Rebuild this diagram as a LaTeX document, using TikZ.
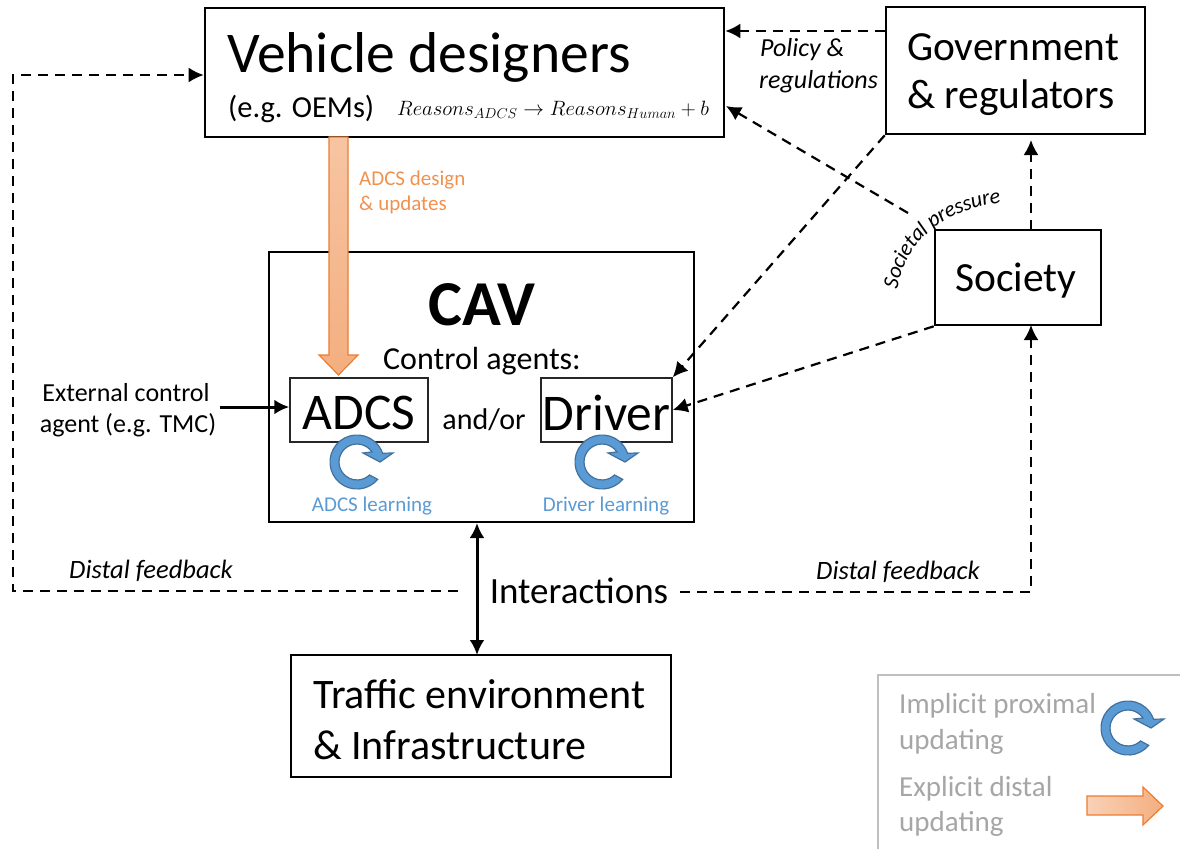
\documentclass[tikz,border=0pt]{standalone}
\usepackage{fontspec}
\setmainfont{Carlito}
\usetikzlibrary{arrows.meta,calc,decorations.text}
\definecolor{cblue}{HTML}{5B9BD5}
\definecolor{cblued}{HTML}{41719C}
\definecolor{corange}{HTML}{ED7D31}
\definecolor{ctext}{HTML}{F0914F}
\definecolor{cgray}{HTML}{A6A6A6}
\newcommand{\fs}[1]{\fontsize{#1}{#1}\selectfont}
\tikzset{
  boxa/.style={draw=black,line width=2.6pt,inner sep=0pt,fill=white},
  boxb/.style={draw=black!85,line width=1.5pt,inner sep=0pt},
  txt/.style={inner sep=0pt,anchor=west,text=black},
  ctxt/.style={inner sep=0pt,anchor=center,text=black},
  tip/.style={-{Latex[length=15pt,width=15pt]}},
  dashline/.style={line width=2.2pt,dash pattern=on 10pt off 7pt,tip},
  solidline/.style={line width=3pt,tip},
  twotip/.style={line width=3pt,{Latex[length=15pt,width=15pt]}-{Latex[length=15pt,width=15pt]}},
  circarr/.style={fill=cblue,draw=cblued,line width=1.2pt,line join=miter},
  orangearr/.style={draw=corange,line width=1.2pt},
}
\newcommand{\circarrow}[2]{%
  \draw[circarr] ($(#1,#2)+(-40:27pt)$) arc[start angle=-40,end angle=-341,radius=27pt]
    -- ($(#1,#2)+(36pt,9pt)$) -- ($(#1,#2)+(23pt,0pt)$) -- ($(#1,#2)+(6pt,9pt)$)
    -- ($(#1,#2)+(34:18pt)$) arc[start angle=34,end angle=-46+360,radius=18pt] -- cycle;}
\begin{document}
\begin{tikzpicture}[x=1pt,y=-1pt]
\useasboundingbox (0,0) rectangle (1180,849);
% boxes
\node[boxa,minimum width=519pt,minimum height=129pt] (vd) at (464.5,72.5) {};
\node[boxa,minimum width=259pt,minimum height=127pt] (gov) at (1015.5,70.5) {};
\node[boxa,minimum width=166pt,minimum height=95pt] (soc) at (1018,277.5) {};
\node[boxa,minimum width=425pt,minimum height=270pt] (cav) at (481.5,387) {};
\node[boxb,minimum width=138pt,minimum height=64pt] (adcs) at (359,410) {};
\node[boxb,minimum width=131pt,minimum height=64pt] (drv) at (606.5,410) {};
\node[boxa,minimum width=380pt,minimum height=122pt] (traf) at (481,716) {};
% legend frame
\draw[draw=black!25,line width=2pt] (878,849) -- (878,675) -- (1180,675);
% texts
\node[txt,font=\fs{57.6}] (t1) at (227,57) {Vehicle designers};
\node[txt,font=\fs{30.5}] (t2) at (228,109) {(e.g. OEMs)};
\node[txt,font=\fs{20}] (t3) at (397,110) {$Reasons_{ADCS}\rightarrow Reasons_{Human}+b$};
\node[txt,font=\fs{41.4}] (g1) at (907,47) {Government};
\node[txt,font=\fs{41.4}] (g2) at (907,98) {\& regulators};
\node[ctxt,font=\fs{41.5}] (s1) at (1016,281) {Society};
\node[ctxt,font=\bfseries\fs{64}] (c1) at (482,305) {CAV};
\node[ctxt,font=\fs{32}] (c2) at (482,361) {Control agents:};
\node[ctxt,font=\fs{51.5}] (a1) at (359,413) {ADCS};
\node[ctxt,font=\fs{51.5}] (d1) at (606.5,413) {Driver};
\node[ctxt,font=\fs{30}] (ao) at (484,420) {and/or};
\node[ctxt,font=\fs{21},text=cblue] (al) at (372,506) {ADCS learning};
\node[ctxt,font=\fs{21},text=cblue] (dl) at (606,506) {Driver learning};
\node[txt,font=\fs{21},text=ctext] (u1) at (359,180) {ADCS design};
\node[txt,font=\fs{21},text=ctext] (u2) at (359,205) {\& updates};
\node[ctxt,font=\fs{26}] (e1) at (126,393) {External control};
\node[ctxt,font=\fs{26}] (e2) at (128,425) {agent (e.g. TMC)};
\coordinate (ee) at (220,407);
\node[txt,font=\itshape\fs{26}] (p1) at (760,50) {Policy \&};
\node[txt,font=\itshape\fs{26}] (p2) at (759,82) {regulations};
\node[ctxt,font=\itshape\fs{26.5}] (f1) at (151,571) {Distal feedback};
\node[ctxt,font=\itshape\fs{26.5}] (f2) at (898,572) {Distal feedback};
\node[ctxt,font=\fs{37}] (int) at (579,591) {Interactions};
\node[txt,font=\fs{42}] (t4) at (313,694) {Traffic environment};
\node[txt,font=\fs{42}] (t5) at (313,745) {\& Infrastructure};
\node[txt,font=\fs{29},text=cgray] (l1) at (899,706) {Implicit proximal};
\node[txt,font=\fs{29},text=cgray] (l2) at (899,742) {updating};
\node[txt,font=\fs{29},text=cgray] (l3) at (899,789) {Explicit distal};
\node[txt,font=\fs{29},text=cgray] (l4) at (899,824) {updating};
% curved label
\path[decorate,decoration={text along path,text align=center,raise=-4pt,
  text={|\itshape\fs{22}|Societal pressure}}]
  (893,294) .. controls (898,241) and (941,204) .. (1006,198);
% connectors
\draw[dashline] (gov.west |- 0,31) -- (vd.east |- 0,31);
\coordinate (sp) at (908,213);
\draw[dashline] (sp) -- (726,106);
\draw[dashline] (gov.south west) -- (drv.north east);
\draw[dashline] (soc.south west) -- (drv.east);
\draw[dashline] (1031,230) -- (1031,140);
\coordinate (il) at (458,591);
\draw[dashline] (il) -- (13,591) -- (13,75) -- (vd.west |- 0,75);
\draw[dashline] (680,592) -- (1031,592) -- (1031,325);
\draw[twotip] (477,523) -- (477,655);
\draw[solidline] (ee) -- (adcs.west |- ee);
% orange arrows
\path[orangearr,top color=corange!45!white,bottom color=corange!62!white]
  (329,137) -- (348,137) -- (348,355) -- (358,355) -- (338.5,375) -- (319,355) -- (329,355) -- cycle;
\path[orangearr,left color=corange!35!white,right color=corange!62!white]
  (1087,796) -- (1143,796) -- (1143,787) -- (1163,806) -- (1143,825) -- (1143,815) -- (1087,815) -- cycle;
% circular arrows
\circarrow{357}{462}
\circarrow{602}{462}
\circarrow{1128}{728}
\end{tikzpicture}
\end{document}
